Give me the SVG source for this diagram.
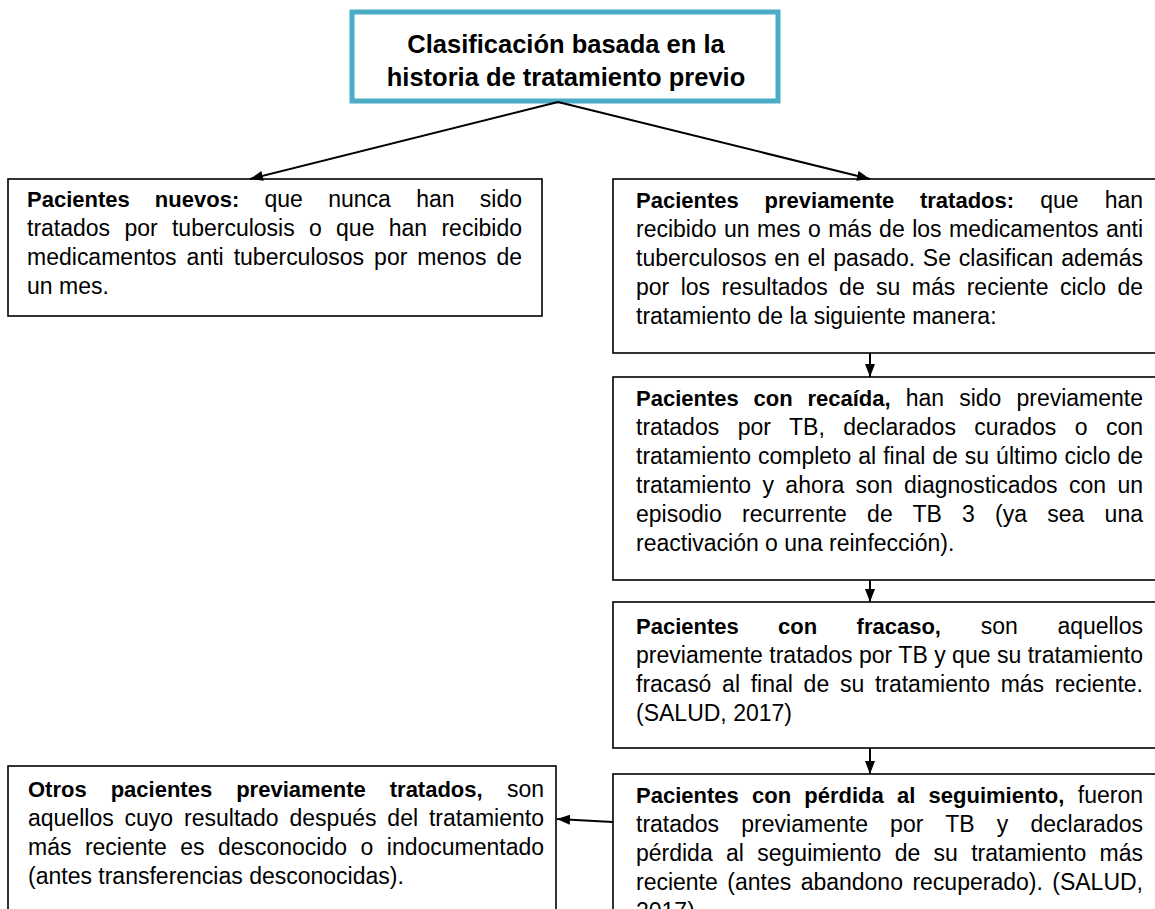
<svg xmlns="http://www.w3.org/2000/svg" width="1155" height="909" viewBox="0 0 1155 909">
<style>
.t{font-family:"Liberation Sans",Arial,sans-serif;font-size:23px;fill:#000}
.b{font-weight:bold;font-size:22px}
.title{font-family:"Liberation Sans",Arial,sans-serif;font-size:25.5px;font-weight:bold;fill:#000}
.box{fill:#fff;stroke:#000;stroke-width:1.6}
.conn{stroke:#000;stroke-width:2;fill:none}
</style>
<defs>
<marker id="ah" viewBox="0 0 13 10" refX="13" refY="5" markerWidth="13" markerHeight="10" markerUnits="userSpaceOnUse" orient="auto"><path d="M0,0 L13,5 L0,10 z" fill="#000"/></marker>
</defs>
<rect width="1155" height="909" fill="#fff"/>

<g id="n-title">
<rect x="352" y="12" width="426" height="89" fill="#fff" stroke="#4BACC6" stroke-width="5"/>
<text class="title" x="566" y="53" text-anchor="middle">Clasificación basada en la</text>
<text class="title" x="566" y="86" text-anchor="middle">historia de tratamiento previo</text>
</g>

<g id="n-nuevos">
<rect class="box" x="8" y="179" width="534" height="137"/>
<text class="t" x="27" y="207" textLength="495" lengthAdjust="spacing" word-spacing="18.9"><tspan class="b">Pacientes nuevos:</tspan> que nunca han sido</text>
<text class="t" x="27" y="236" textLength="495" lengthAdjust="spacing" word-spacing="7.9">tratados por tuberculosis o que han recibido</text>
<text class="t" x="27" y="265" textLength="495" lengthAdjust="spacing" word-spacing="3.6">medicamentos anti tuberculosos por menos de</text>
<text class="t" x="27" y="294">un mes.</text>
</g>

<g id="n-previos">
<rect class="box" x="613" y="179" width="560" height="174"/>
<text class="t" x="636" y="208" textLength="507" lengthAdjust="spacing" word-spacing="19.7"><tspan class="b">Pacientes previamente tratados:</tspan> que han</text>
<text class="t" x="636" y="237" textLength="507" lengthAdjust="spacing" word-spacing="1.1">recibido un mes o más de los medicamentos anti</text>
<text class="t" x="636" y="266" textLength="507" lengthAdjust="spacing" word-spacing="1.4">tuberculosos en el pasado. Se clasifican además</text>
<text class="t" x="636" y="295" textLength="507" lengthAdjust="spacing" word-spacing="5">por los resultados de su más reciente ciclo de</text>
<text class="t" x="636" y="324">tratamiento de la siguiente manera:</text>
</g>

<g id="n-recaida">
<rect class="box" x="613" y="377" width="560" height="203"/>
<text class="t" x="636" y="406" textLength="507" lengthAdjust="spacing" word-spacing="8.7"><tspan class="b">Pacientes con recaída,</tspan> han sido previamente</text>
<text class="t" x="636" y="435" textLength="507" lengthAdjust="spacing" word-spacing="12">tratados por TB, declarados curados o con</text>
<text class="t" x="636" y="464" textLength="507" lengthAdjust="spacing" word-spacing="0.6">tratamiento completo al final de su último ciclo de</text>
<text class="t" x="636" y="493" textLength="507" lengthAdjust="spacing" word-spacing="5">tratamiento y ahora son diagnosticados con un</text>
<text class="t" x="636" y="522" textLength="507" lengthAdjust="spacing" word-spacing="13.8">episodio recurrente de TB 3 (ya sea una</text>
<text class="t" x="636" y="551">reactivación o una reinfección).</text>
</g>

<g id="n-fracaso">
<rect class="box" x="613" y="602" width="560" height="146"/>
<text class="t" x="636" y="634" textLength="507" lengthAdjust="spacing" word-spacing="33.3"><tspan class="b">Pacientes con fracaso,</tspan> son aquellos</text>
<text class="t" x="636" y="663" textLength="507" lengthAdjust="spacing">previamente tratados por TB y que su tratamiento</text>
<text class="t" x="636" y="692" textLength="507" lengthAdjust="spacing" word-spacing="4.3">fracasó al final de su tratamiento más reciente.</text>
<text class="t" x="636" y="721">(SALUD, 2017)</text>
</g>

<g id="n-perdida">
<rect class="box" x="613" y="774" width="560" height="160"/>
<text class="t" x="636" y="803" textLength="507" lengthAdjust="spacing" word-spacing="7.1"><tspan class="b">Pacientes con pérdida al seguimiento,</tspan> fueron</text>
<text class="t" x="636" y="832" textLength="507" lengthAdjust="spacing" word-spacing="15.8">tratados previamente por TB y declarados</text>
<text class="t" x="636" y="861" textLength="507" lengthAdjust="spacing" word-spacing="7">pérdida al seguimiento de su tratamiento más</text>
<text class="t" x="636" y="890" textLength="507" lengthAdjust="spacing" word-spacing="3.1">reciente (antes abandono recuperado). (SALUD,</text>
<text class="t" x="636" y="919">2017)</text>
</g>

<g id="n-otros">
<rect class="box" x="8" y="766" width="548" height="170"/>
<text class="t" x="28" y="797" textLength="516" lengthAdjust="spacing" word-spacing="17.9"><tspan class="b">Otros pacientes previamente tratados,</tspan> son</text>
<text class="t" x="28" y="826" textLength="516" lengthAdjust="spacing" word-spacing="4.5">aquellos cuyo resultado después del tratamiento</text>
<text class="t" x="28" y="855" textLength="516" lengthAdjust="spacing" word-spacing="7.1">más reciente es desconocido o indocumentado</text>
<text class="t" x="28" y="884">(antes transferencias desconocidas).</text>
</g>

<g id="connectors">
<line class="conn" x1="558" y1="102" x2="250" y2="179" marker-end="url(#ah)"/>
<line class="conn" x1="558" y1="102" x2="870" y2="179" marker-end="url(#ah)"/>
<line class="conn" x1="870" y1="353" x2="870" y2="377" marker-end="url(#ah)"/>
<line class="conn" x1="870" y1="580" x2="870" y2="602" marker-end="url(#ah)"/>
<line class="conn" x1="870" y1="748" x2="870" y2="774" marker-end="url(#ah)"/>
<line class="conn" x1="613" y1="822" x2="557" y2="819" marker-end="url(#ah)"/>
</g>
</svg>
